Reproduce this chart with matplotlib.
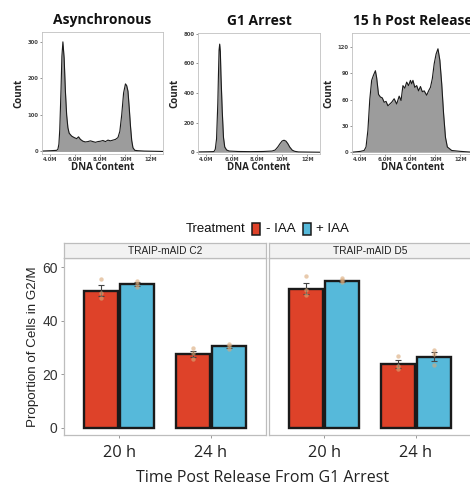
import matplotlib
matplotlib.use("Agg")
import matplotlib.pyplot as plt
from matplotlib.patches import Rectangle
import numpy as np

# ---------------- data: flow cytometry histograms ----------------
async_x = [3.3, 4.0, 4.5, 4.6, 4.68, 4.75, 4.85, 4.92, 5.0, 5.1, 5.2, 5.3, 5.4, 5.5, 5.7, 5.9,
           6.1, 6.25, 6.4, 6.6, 6.8, 7.0, 7.2, 7.4, 7.6, 7.8, 8.0, 8.2, 8.4, 8.6, 8.8, 9.0,
           9.2, 9.4, 9.55, 9.7, 9.85, 10.0, 10.1, 10.2, 10.3, 10.4, 10.5, 10.6, 10.75, 11.0, 11.5, 13.0]
async_y = [1, 2, 3, 6, 20, 60, 170, 260, 300, 255, 165, 100, 65, 50, 42, 38,
           35, 40, 33, 28, 26, 27, 29, 27, 25, 27, 28, 30, 27, 31, 29, 31,
           33, 38, 55, 100, 160, 185, 180, 165, 120, 70, 30, 10, 3, 2, 1, 0]

g1_x = [3.3, 4.0, 4.5, 4.6, 4.7, 4.8, 4.9, 4.95, 5.0, 5.05, 5.1, 5.15, 5.25, 5.35, 5.45, 5.6,
        5.8, 6.5, 7.5, 8.5, 9.2, 9.45, 9.65, 9.85, 10.0, 10.15, 10.3, 10.45, 10.6, 10.8,
        11.0, 11.3, 13.0]
g1_y = [2, 3, 4, 5, 20, 90, 330, 520, 690, 730, 680, 520, 280, 100, 35, 15,
        8, 5, 4, 5, 8, 15, 35, 60, 76, 81, 75, 58, 35, 14,
        6, 2, 0]

h15_x = [3.3, 4.0, 4.3, 4.45, 4.6, 4.75, 4.9, 5.05, 5.2, 5.3, 5.45, 5.6, 5.75, 5.9, 6.05,
         6.2, 6.35, 6.5, 6.7, 6.9, 7.1, 7.25, 7.4, 7.55, 7.7, 7.85, 8.0, 8.1, 8.2, 8.35,
         8.5, 8.65, 8.8, 8.95, 9.1, 9.3, 9.45, 9.6, 9.75, 9.9, 10.05, 10.2, 10.35, 10.5,
         10.65, 10.8, 10.95, 11.3, 12.0, 13.0]
h15_y = [0, 1, 2, 6, 25, 60, 82, 88, 93, 85, 66, 63, 62, 57, 58,
         53, 55, 57, 61, 55, 64, 59, 76, 73, 80, 76, 82, 78, 82, 74,
         76, 70, 75, 69, 70, 65, 70, 74, 84, 101, 112, 118, 105, 78,
         44, 17, 6, 2, 1, 0]

hist_titles = ["Asynchronous", "G1 Arrest", "15 h Post Release"]
hist_xticks = [4, 6, 8, 10, 12]
hist_xticklabels = ["4.0M", "6.0M", "8.0M", "10M", "12M"]
hist_yticks = [[0, 100, 200, 300], [0, 200, 400, 600, 800], [0, 30, 60, 90, 120]]
hist_ylims = [(-7, 327), (-12, 805), (-2, 136)]

# ---------------- data: G2/M proportion bars ----------------
facets = ["TRAIP-mAID C2", "TRAIP-mAID D5"]
times = ["20 h", "24 h"]
treatments = ["- IAA", "+ IAA"]
# means[time][treatment]
c2_means = [[51.2, 53.6], [27.6, 30.4]]
c2_sems = [[2.1, 0.8], [1.2, 0.6]]
d5_means = [[52.0, 54.9], [23.7, 26.6]]
d5_sems = [[2.2, 0.4], [1.5, 1.7]]
c2_points = [[[55.7, 50.4, 48.5], [55.0, 53.8, 52.5]], [[29.8, 27.9, 25.8], [31.3, 30.4, 29.4]]]
d5_points = [[[56.6, 51.6, 49.7], [56.0, 55.2, 54.6]], [[26.9, 23.0, 21.8], [29.2, 27.7, 23.6]]]

W, H = 470, 488
fig = plt.figure(figsize=(W / 100, H / 100), dpi=100)


def ax_px(l, t, r, b, **kw):
    return fig.add_axes([l / W, 1 - b / H, (r - l) / W, (b - t) / H], **kw)


hist_data = [(async_x, async_y), (g1_x, g1_y), (h15_x, h15_y)]
hist_boxes = [(42, 32, 163, 154), (198, 33, 320, 154), (352, 33, 473, 154)]
title_font = "Open Sans"
for i, ((xs, ys), box) in enumerate(zip(hist_data, hist_boxes)):
    ax = ax_px(*box)
    ax.fill_between(xs, ys, 0, color="#9c9c9c", lw=0)
    ax.plot(xs, ys, color="#1a1a1a", lw=0.8)
    ax.set_xlim(3.33, 13.0)
    ax.set_ylim(*hist_ylims[i])
    ax.set_xticks(hist_xticks)
    ax.set_xticklabels(hist_xticklabels)
    ax.set_yticks(hist_yticks[i])
    ax.tick_params(labelsize=3.8, length=1.5, width=0.4, colors="#444", pad=1)
    for lab in ax.get_xticklabels() + ax.get_yticklabels():
        lab.set_fontweight("bold")
    for s in ax.spines.values():
        s.set_color("#c0c0c0")
        s.set_linewidth(0.6)
    ax.set_xlabel("DNA Content", fontsize=7, fontweight="bold", family=title_font,
                  labelpad=0, color="#222")
    ax.set_ylabel("Count", fontsize=7, fontweight="bold", family=title_font,
                  labelpad=2, color="#222")
    ax.set_title(hist_titles[i], fontsize=10, fontweight="bold", family=title_font,
                 pad=6, color="#111")

# ---------------- bar chart ----------------
red = "#de4229"
blue = "#56b9da"
colors = [red, blue]
offsets = [-0.2, 0.2]
bar_w = 0.37

panels = [(64, 258, 266, 435), (269, 258, 471, 435)]
all_means = [c2_means, d5_means]
all_sems = [c2_sems, d5_sems]
all_points = [c2_points, d5_points]

for p, box in enumerate(panels):
    l, t, r, b = box
    ax = ax_px(l, t, r, b)
    for ti in range(len(times)):
        for tr in range(len(treatments)):
            x = ti + 1 + offsets[tr]
            m = all_means[p][ti][tr]
            se = all_sems[p][ti][tr]
            ax.bar(x, m, width=bar_w, color=colors[tr], edgecolor="#1a1a1a",
                   linewidth=1.7, zorder=2)
            ax.errorbar(x, m, yerr=se, color="#444", lw=0.8, capsize=2.2,
                        capthick=0.8, zorder=3)
            pts = all_points[p][ti][tr]
            ax.scatter([x] * len(pts), pts, s=10, color="#d9a877", alpha=0.6,
                       lw=0, zorder=4)
    ax.set_xlim(0.4, 2.6)
    ax.set_ylim(-2.65, 63.4)
    ax.set_xticks([1, 2])
    ax.set_xticklabels(times, family="Open Sans", fontsize=11.8, color="#222")
    ax.tick_params(axis="x", length=2.5, width=0.6, colors="#888", pad=5)
    for lab in ax.get_xticklabels():
        lab.set_color("#222")
    if p == 0:
        ax.set_yticks([0, 20, 40, 60])
        ax.set_yticklabels(["0", "20", "40", "60"], family="Liberation Sans",
                           fontsize=10, color="#333")
        ax.tick_params(axis="y", length=2.5, width=0.6, colors="#888", pad=2)
        for lab in ax.get_yticklabels():
            lab.set_color("#333")
        ax.set_ylabel("Proportion of Cells in G2/M", family="Liberation Sans",
                      fontsize=9.6, color="#222", labelpad=2)
    else:
        ax.set_yticks([])
    for s in ax.spines.values():
        s.set_color("#bdbdbd")
        s.set_linewidth(0.9)
    # strip
    sax = ax_px(l, 243, r, 258)
    sax.set_facecolor("#f2f2f2")
    sax.set_xticks([])
    sax.set_yticks([])
    for s in sax.spines.values():
        s.set_color("#bdbdbd")
        s.set_linewidth(0.9)
    sax.text(0.5, 0.47, facets[p], transform=sax.transAxes, ha="center", va="center",
             family="Liberation Sans", fontsize=7.3, color="#222")

# x title
fig.text(263 / W, 1 - 478 / H, "Time Post Release From G1 Arrest", family="Open Sans",
         fontsize=11.5, ha="center", va="center", color="#222")

# legend
ly = 1 - 229 / H
fig.text(245 / W, ly, "Treatment", family="Liberation Sans", fontsize=9.5,
         ha="right", va="center", color="#111")
keys = [(252, red, "- IAA", 266), (303, blue, "+ IAA", 316)]
for kx, col, lab, tx in keys:
    fig.patches.append(Rectangle((kx / W, 1 - 235 / H), 8 / W, 12 / H,
                                 transform=fig.transFigure, facecolor=col,
                                 edgecolor="#1a1a1a", lw=1.1))
    fig.text(tx / W, ly, lab, family="Liberation Sans", fontsize=9.5,
             ha="left", va="center", color="#111")

fig.savefig("out.png", dpi=100)
